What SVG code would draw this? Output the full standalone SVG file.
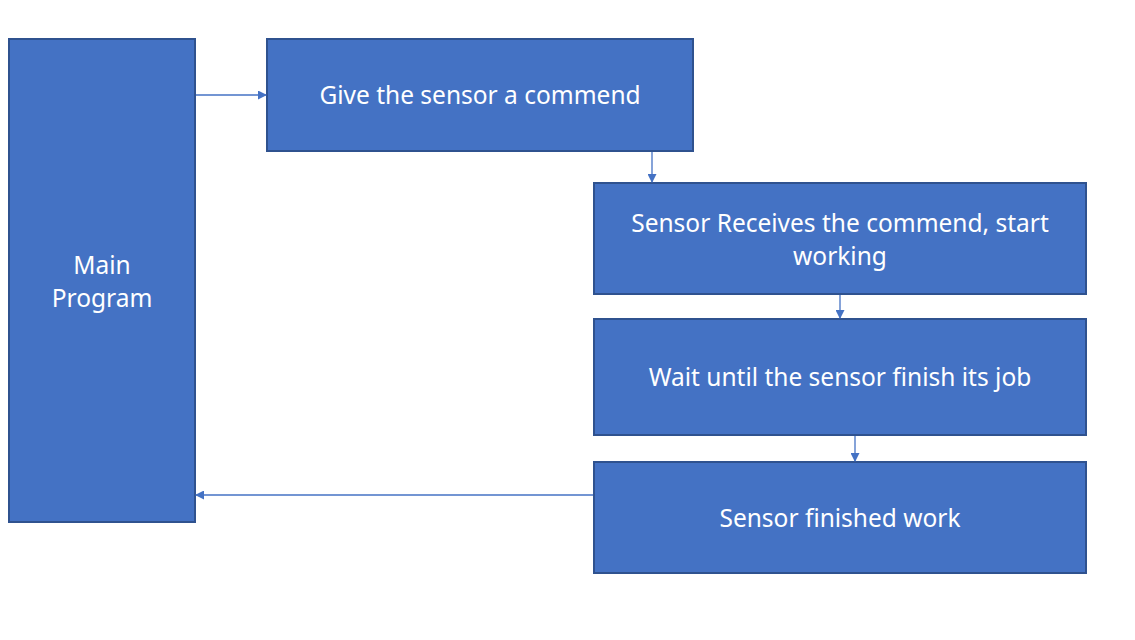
<svg xmlns="http://www.w3.org/2000/svg" width="1135" height="640" viewBox="0 0 1135 640">
<style>
.box{fill:#4472C4;stroke:#2F528F;stroke-width:2}
.t{fill:#fff;font-family:"Noto Sans","Liberation Sans",sans-serif;font-size:24.5px;text-anchor:middle}
.c{stroke:#4472C4;stroke-width:1.3;fill:none;marker-end:url(#ah)}
</style>
<defs>
<marker id="ah" markerWidth="9" markerHeight="9" refX="8" refY="4.5" orient="auto" markerUnits="userSpaceOnUse">
<path d="M0,0 L9,4.5 L0,9 Z" fill="#4472C4"/>
</marker>
</defs>
<rect width="1135" height="640" fill="#fff"/>
<g id="main">
<rect class="box" x="9" y="39" width="186" height="483"/>
<text class="t" x="102" y="274">Main</text>
<text class="t" x="102" y="307">Program</text>
</g>
<g id="n1">
<rect class="box" x="267" y="39" width="426" height="112"/>
<text class="t" x="480" y="104">Give the sensor a commend</text>
</g>
<g id="n2">
<rect class="box" x="594" y="183" width="492" height="111"/>
<text class="t" x="840" y="232">Sensor Receives the commend, start</text>
<text class="t" x="840" y="265">working</text>
</g>
<g id="n3">
<rect class="box" x="594" y="319" width="492" height="116"/>
<text class="t" x="840" y="386">Wait until the sensor finish its job</text>
</g>
<g id="n4">
<rect class="box" x="594" y="462" width="492" height="111"/>
<text class="t" x="840" y="527">Sensor finished work</text>
</g>
<g id="connectors">
<path class="c" d="M196,95 H266"/>
<path class="c" d="M652,152 V182"/>
<path class="c" d="M840,295 V318"/>
<path class="c" d="M855,436 V461"/>
<path class="c" d="M593,495 H196"/>
</g>
</svg>
